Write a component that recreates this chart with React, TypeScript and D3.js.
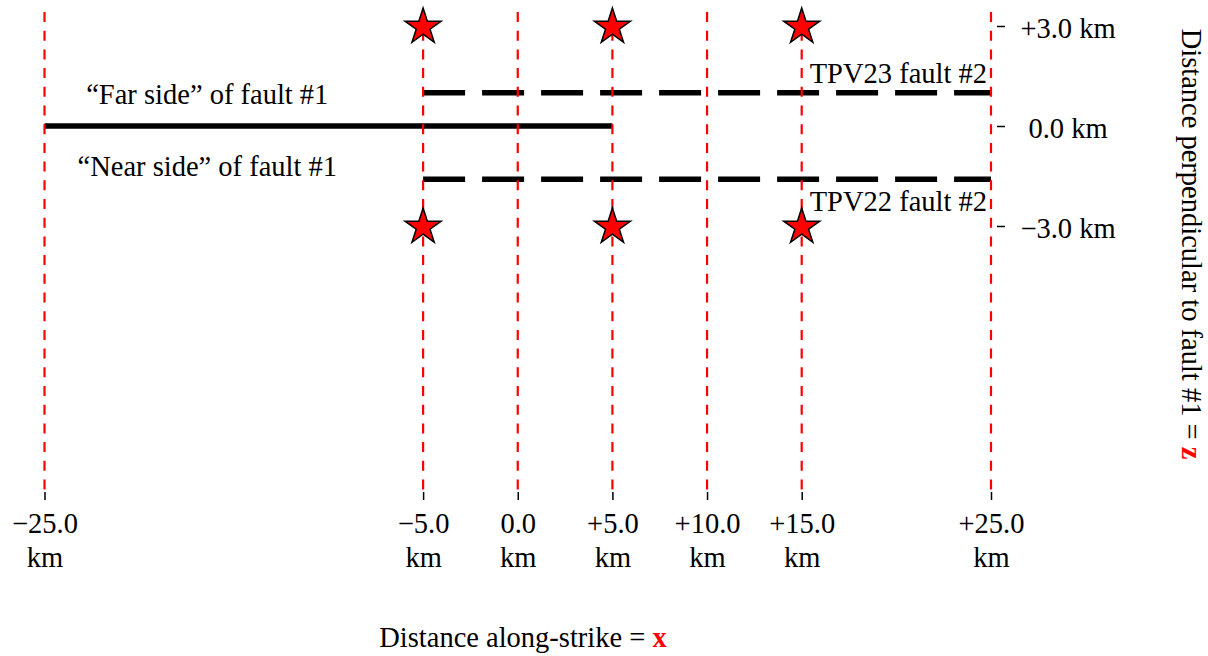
import React, { useEffect, useRef } from 'react'
import * as d3 from 'd3'

// along-strike tick positions (km) and perpendicular ticks (km)
const xTicks = [-25, -5, 0, 5, 10, 15, 25]
const zTicks = [3, 0, -3]
const xTickLabels = ['\u221225.0', '\u22125.0', '0.0', '+5.0', '+10.0', '+15.0', '+25.0']
const zTickLabels = ['+3.0 km', '0.0 km', '\u22123.0 km']

// faults
const fault1X = [-25, 5]
const fault1Z = 0
const fault2X = [-5, 25]
const fault2Z = [1.0, -1.6] // TPV23, TPV22
const fault2Names = ['TPV23 fault #2', 'TPV22 fault #2']

// stations (stars)
const stationX = [-5, 5, 15]
const stationZ = [3, -3]

const FONT = '"Liberation Serif", "Times New Roman", serif'

export default function App() {
  const ref = useRef<SVGSVGElement>(null)

  useEffect(() => {
    document.body.style.margin = '0'
    const width = 1208, height = 656
    const top = 12, bottom = 492

    const svg = d3.select(ref.current)
    svg.selectAll('*').remove()
    svg.attr('width', width).attr('height', height)
      .style('font-family', FONT)

    const x = d3.scaleLinear().domain([-25, 25]).range([44.5, 991])
    const z = d3.scaleLinear().domain([3, -3]).range([26, 226])

    // fault #1 (solid)
    svg.append('line')
      .attr('x1', x(fault1X[0])).attr('x2', x(fault1X[1]))
      .attr('y1', z(fault1Z)).attr('y2', z(fault1Z))
      .attr('stroke', 'black').attr('stroke-width', 5.5)

    // fault #2 (dashed)
    svg.append('g').selectAll('line')
      .data(fault2Z)
      .enter().append('line')
      .attr('x1', x(fault2X[0])).attr('x2', x(fault2X[1]))
      .attr('y1', d => z(d)).attr('y2', d => z(d))
      .attr('stroke', 'black').attr('stroke-width', 5.5)
      .attr('stroke-dasharray', '42,17')

    // red vertical guides
    svg.append('g').selectAll('line')
      .data(xTicks)
      .enter().append('line')
      .attr('x1', d => x(d)).attr('x2', d => x(d))
      .attr('y1', top).attr('y2', bottom - 2)
      .attr('stroke', 'red').attr('stroke-width', 2.2)
      .attr('stroke-dasharray', '10,8.7')

    // bottom axis
    const xAxis = svg.append('g')
      .attr('transform', 'translate(0,' + bottom + ')')
      .call(d3.axisBottom(x).tickValues(xTicks).tickSize(8))
    xAxis.select('.domain').remove()
    xAxis.selectAll('.tick line').attr('stroke', 'black').attr('stroke-width', 1.5)
    xAxis.selectAll('.tick text').remove()
    xAxis.selectAll('.tick').each(function (d, i) {
      const t = d3.select(this).append('text')
        .attr('text-anchor', 'middle')
        .attr('fill', 'black')
        .style('font-family', FONT)
        .style('font-size', '28.5px')
      t.append('tspan').attr('x', 0).attr('y', 41).text(xTickLabels[i])
      t.append('tspan').attr('x', 0).attr('y', 75).text('km')
    })

    // right axis
    const zAxis = svg.append('g')
      .attr('transform', 'translate(997,0)')
      .call(d3.axisRight(z).tickValues(zTicks).tickSize(8))
    zAxis.select('.domain').remove()
    zAxis.selectAll('.tick line').attr('stroke', 'black').attr('stroke-width', 1.5)
    zAxis.selectAll('.tick text')
      .attr('x', 71).attr('dy', null).attr('y', 11)
      .attr('text-anchor', 'middle')
      .attr('fill', 'black')
      .style('font-family', FONT)
      .style('font-size', '28.5px')
      .text((d, i) => zTickLabels[i])

    // fault labels
    const label = (tx, ty, s, anchor) => svg.append('text')
      .attr('x', tx).attr('y', ty)
      .attr('text-anchor', anchor)
      .style('font-size', '28.5px')
      .text(s)

    label(x(-16.4), z(fault1Z) - 22, '\u201CFar side\u201D of fault #1', 'middle')
    label(x(-16.4), z(fault1Z) + 50, '\u201CNear side\u201D of fault #1', 'middle')
    label(x(fault2X[1]) - 4, z(fault2Z[0]) - 10, fault2Names[0], 'end')
    label(x(fault2X[1]) - 4, z(fault2Z[1]) + 32, fault2Names[1], 'end')

    // stations
    const star = d3.symbol().type(d3.symbolStar).size(19 * 19 / 0.8908130915292852)
    const pts = []
    stationZ.forEach(sz => stationX.forEach(sx => pts.push([sx, sz])))
    svg.append('g').selectAll('path')
      .data(pts)
      .enter().append('path')
      .attr('transform', d => 'translate(' + x(d[0]) + ',' + (z(d[1]) + 1) + ')')
      .attr('d', star)
      .attr('fill', 'red')
      .attr('stroke', 'black')
      .attr('stroke-width', 1.5)

    // axis titles
    const xt = svg.append('text')
      .attr('x', 523).attr('y', 647)
      .attr('text-anchor', 'middle')
      .style('font-size', '28.5px')
    xt.append('tspan').text('Distance along-strike = ')
    xt.append('tspan').attr('fill', 'red').attr('font-weight', 'bold').text('x')

    const zt = svg.append('text')
      .attr('transform', 'translate(1182,244) rotate(90)')
      .attr('text-anchor', 'middle')
      .style('font-size', '28.5px')
    zt.append('tspan').text('Distance perpendicular to fault #1 = ')
    zt.append('tspan').attr('fill', 'red').attr('font-weight', 'bold').text('z')
  }, [])

  return <svg ref={ref}></svg>
}
